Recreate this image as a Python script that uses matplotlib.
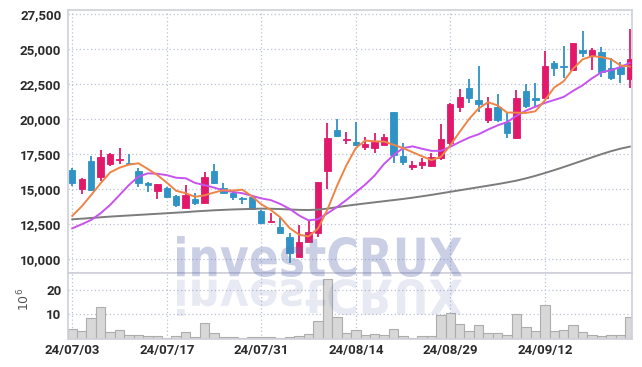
import matplotlib
matplotlib.use("Agg")
import matplotlib.pyplot as plt
import numpy as np
import pandas as pd
from matplotlib.textpath import TextPath
from matplotlib.patches import PathPatch
from matplotlib.font_manager import FontProperties
from matplotlib.transforms import Affine2D

# ---------------- data ----------------
dates = ["24/07/03", "24/07/04", "24/07/05", "24/07/08", "24/07/09", "24/07/10", "24/07/11", "24/07/12",
         "24/07/15", "24/07/16", "24/07/17", "24/07/18", "24/07/19", "24/07/22", "24/07/23", "24/07/24",
         "24/07/25", "24/07/26", "24/07/29", "24/07/30", "24/07/31", "24/08/01", "24/08/02", "24/08/05",
         "24/08/06", "24/08/07", "24/08/08", "24/08/09", "24/08/12", "24/08/13", "24/08/14", "24/08/16",
         "24/08/19", "24/08/20", "24/08/21", "24/08/22", "24/08/23", "24/08/26", "24/08/27", "24/08/28",
         "24/08/29", "24/08/30", "24/09/02", "24/09/03", "24/09/04", "24/09/05", "24/09/06", "24/09/09",
         "24/09/10", "24/09/11", "24/09/12", "24/09/13", "24/09/19", "24/09/20", "24/09/23", "24/09/24",
         "24/09/25", "24/09/26", "24/09/27", "24/09/30"]

opens = [16379, 15043, 17021, 15900, 16786, 17100, 16900, 16307, 15470, 14900,
         15071, 14521, 13686, 14307, 14043, 16307, 15071, 14714, 14380, 14429,
         13450, 12640, 12286, 11614, 10143, 11214, 11900, 16329, 19236, 18520,
         18379, 18043, 17971, 18186, 20521, 17379, 16600, 16757, 16664, 17257,
         18329, 20900, 22236, 21379, 19971, 20857, 19786, 18643, 22021, 21540,
         21543, 24043, 23830, 23521, 24950, 24543, 24786, 23643, 23757, 22857]
highs = [16543, 15829, 17379, 17807, 17600, 17929, 17521, 16500, 15520, 15400,
         15190, 14600, 15307, 14714, 16257, 16786, 15430, 14950, 14430, 14593,
         13520, 13329, 12929, 11857, 12429, 12736, 15521, 19714, 20000, 19071,
         19786, 18714, 19000, 18929, 20550, 18286, 17021, 17257, 17571, 19664,
         21150, 22143, 22879, 23807, 21614, 21786, 20471, 22120, 22500, 22571,
         24879, 24164, 25236, 25450, 26307, 25071, 25143, 24357, 24114, 26429]
lows = [15236, 14643, 14900, 15614, 16664, 16786, 16800, 15143, 14807, 14286,
        14450, 13757, 13643, 13879, 14000, 15400, 14700, 14236, 13950, 13550,
        12521, 12640, 11857, 9757, 10143, 11214, 11571, 15021, 18714, 18236,
        18100, 17807, 17571, 18186, 16857, 16736, 16379, 16429, 16600, 17093,
        18043, 20521, 21143, 20543, 19714, 19829, 18643, 18600, 20829, 20900,
        21543, 23114, 22971, 23450, 24471, 23521, 23043, 22786, 22614, 22257]
closes = [15471, 15736, 14950, 17329, 17521, 17180, 16820, 15429, 15290, 15379,
          14471, 13879, 14593, 14000, 15900, 15471, 14714, 14471, 14290, 13571,
          12614, 12690, 11857, 10429, 11214, 11950, 15521, 18643, 18807, 18600,
          18143, 18214, 18379, 18714, 17450, 16971, 16740, 16950, 17307, 18593,
          21093, 21593, 21543, 21071, 20807, 19950, 19043, 21500, 20971, 21400,
          23807, 23686, 23740, 25429, 24757, 24950, 23357, 22971, 23236, 24307]

# volume in millions of shares
volumes = [3.8, 3.0, 8.4, 12.9, 2.6, 3.4, 1.4, 1.4, 0.9, 0.9,
           0.4, 0.9, 2.6, 0.5, 6.3, 2.2, 0.6, 0.6, 0.2, 0.5,
           0.5, 0.5, 0.2, 0.5, 0.9, 1.8, 7.2, 24.4, 8.8, 2.2,
           3.4, 1.4, 1.8, 1.4, 3.8, 0.9, 0.4, 0.9, 0.9, 9.7,
           10.4, 6.0, 3.0, 5.5, 2.2, 2.2, 1.4, 10.0, 4.6, 3.0,
           13.8, 3.0, 3.4, 5.5, 2.6, 1.4, 0.9, 1.4, 1.4, 8.8]

# moving-average values at the start of the window (need earlier sessions)
ma5_head = [13100, 13780, 14590, 15430]
ma10_head = [12210, 12500, 12810, 13290, 13880, 14590, 15310, 15900, 16140]
# 60-day moving average
ma60 = [12860, 12900, 12950, 13000, 13050, 13090, 13130, 13170, 13210, 13250,
        13290, 13330, 13370, 13420, 13460, 13500, 13530, 13560, 13580, 13600,
        13620, 13610, 13590, 13560, 13530, 13520, 13550, 13620, 13720, 13820,
        13910, 13990, 14070, 14150, 14230, 14310, 14400, 14500, 14600, 14710,
        14820, 14930, 15040, 15150, 15260, 15370, 15490, 15620, 15780, 15960,
        16160, 16370, 16590, 16820, 17050, 17280, 17510, 17720, 17900, 18050]

price_ticks = [10000, 12500, 15000, 17500, 20000, 22500, 25000, 27500]
vol_ticks = [10, 20]
tick_step = 10

# ---------------- styling ----------------
W, H = 642, 367
UP = "#e2196b"
DOWN = "#2f93c6"
GRID = "#bcc0d6"
SPINE = "#cfd0da"
TXT = "#2b2b2b"
TICKFONT = ["Roboto", "DejaVu Sans"]

fig = plt.figure(figsize=(W / 100, H / 100), dpi=100)
L, R = 68.3 / W, 632.3 / W
ax = fig.add_axes([L, 1 - 273 / H, R - L, (273 - 10) / H])
axv = fig.add_axes([L, 1 - 338.6 / H, R - L, (338.6 - 273) / H], sharex=ax)

x = np.arange(len(closes))
o = np.array(opens, float)
c = np.array(closes, float)
h = np.array(highs, float)
lo = np.array(lows, float)
up = c >= o
cols = np.where(up, UP, DOWN)

cs = pd.Series(c)
ma5 = cs.rolling(5).mean().to_numpy()
ma5[:len(ma5_head)] = ma5_head
ma10 = cs.rolling(10).mean().to_numpy()
ma10[:len(ma10_head)] = ma10_head

# grid
for a in (ax, axv):
    a.set_axisbelow(True)
    a.grid(True, linestyle=(0, (1, 2)), color=GRID, linewidth=0.9)
    for s in a.spines.values():
        s.set_color(SPINE)
        s.set_linewidth(1.2)
    a.tick_params(length=0, colors=TXT)

# wicks & bodies
ax.vlines(x, lo, h, colors=cols, linewidth=1.3, zorder=3)
body_bot = np.minimum(o, c)
body_h = np.maximum(np.abs(c - o), 60)
ax.bar(x, body_h, bottom=body_bot, width=0.68, color=cols, edgecolor=cols, linewidth=0.6, zorder=4)

# moving averages
ax.plot(x, ma60, color="#7c7c7c", linewidth=1.4, zorder=5)
ax.plot(x, ma10, color="#c753ef", linewidth=1.4, zorder=5)
ax.plot(x, ma5, color="#ef8447", linewidth=1.4, zorder=6)

ax.set_xlim(-0.42, 59.26)
ax.set_ylim(9021, 27807)
ax.set_yticks(price_ticks)
ax.set_yticklabels([f"{v:,}" for v in price_ticks])
ax.tick_params(axis="x", labelbottom=False)
ax.tick_params(axis="y", pad=5)

# volume
axv.bar(x, volumes, width=1.0, color="#d8d8d8", edgecolor="#adadad", linewidth=0.8, zorder=2)
axv.set_ylim(0, 26.9)
axv.set_yticks(vol_ticks)
axv.set_yticklabels([str(v) for v in vol_ticks])
axv.tick_params(axis="y", pad=5)
tick_idx = list(range(0, len(dates), tick_step))
axv.set_xticks(tick_idx)
axv.set_xticklabels([dates[i] for i in tick_idx])
axv.tick_params(axis="x", pad=4)
axv.set_ylabel("10$^{6}$", color="#555555", fontsize=9)
axv.yaxis.set_label_coords(-0.063, 0.59)

for a in (ax, axv):
    for lab in a.get_yticklabels() + a.get_xticklabels():
        lab.set_fontfamily(TICKFONT)
        lab.set_fontsize(9.5)
        lab.set_fontweight("bold")
        lab.set_color(TXT)

# watermark with reflection
fp = FontProperties(family="DejaVu Sans", weight="bold")
tp = TextPath((0, 0), "investCRUX", size=1, prop=fp)
bb = tp.get_extents()
x0p, x1p = 177, 462
ytop, ybase = 236, 277
sx = (x1p - x0p) / bb.width
sy = (ybase - ytop) / bb.height
main_tr = (Affine2D().translate(-bb.x0, -bb.y0).scale(sx, sy).translate(x0p, H - ybase)
           .scale(1 / W, 1 / H))
fig.add_artist(PathPatch(tp, transform=main_tr + fig.transFigure, facecolor="#5f6fb0",
                         edgecolor="none", alpha=0.33, zorder=20))
refl_tr = (Affine2D().translate(-bb.x0, -bb.y0).scale(sx, -sy * 0.9).translate(x0p, H - 279)
           .scale(1 / W, 1 / H))
fig.add_artist(PathPatch(tp, transform=refl_tr + fig.transFigure, facecolor="#5f6fb0",
                         edgecolor="none", alpha=0.14, zorder=20))

fig.savefig("out.png", dpi=100)
